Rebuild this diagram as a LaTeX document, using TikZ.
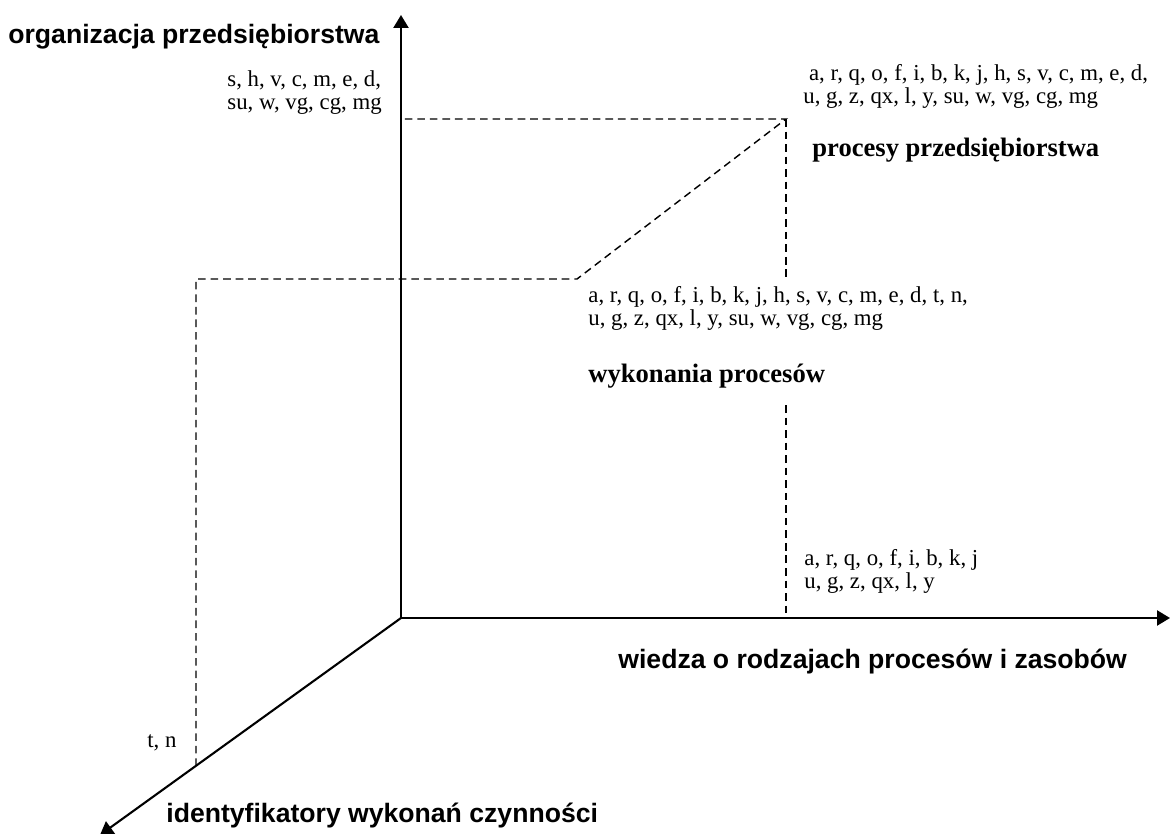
\documentclass[tikz,border=0pt]{standalone}
\usepackage{fontspec}
\setmainfont{Liberation Serif}
\setsansfont{Liberation Sans}
\usetikzlibrary{arrows.meta}

\begin{document}
\begin{tikzpicture}
[x=0.5263pt, y=-0.5263pt,
  axisline/.style={line width=1.1pt,-{Triangle[length=6.8pt,width=7.9pt]}},%
  guideline/.style={line width=0.75pt,dash pattern=on 4pt off 2.6pt},%
  axislabel/.style={font=\sffamily\bfseries\fontsize{14}{16}\selectfont,inner sep=0pt,anchor=base west},%
  setlabel/.style={font=\fontsize{12}{11.6}\selectfont,align=left,inner sep=0pt,anchor=base west},%
  levellabel/.style={font=\bfseries\fontsize{14}{16}\selectfont,inner sep=0pt,anchor=base west}]
\useasboundingbox (0,0) rectangle (1170,834);
%% points of the axes and of the guide lines
\foreach \pointname/\x/\y in {origin/401/618, ytip/401/15, xtip/1170/618, ztip/100/835,
  zfoot/196/766, zhead/196/279, kink/577/279, corner/786/119, yhead/401/119,
  cornerend/786/277, xfoot/786/618, xhead/786/405} {
  \coordinate (\pointname) at (\x,\y);
}
%% axes
\draw[axisline] (origin) -- (ytip);
\draw[axisline] (origin) -- (xtip);
\draw[axisline] (origin) -- (ztip);
%% guide lines
\draw[guideline] (zfoot) -- (zhead) -- (kink) -- (corner) -- (yhead);
\draw[guideline] (corner) -- (cornerend);
\draw[guideline] (xhead) -- (xfoot);
%% axis names
\node (orgname) at (8,43) [axislabel] {organizacja przedsiębiorstwa};
\node (wiedzaname) at (618,668) [axislabel] {wiedza o rodzajach procesów i zasobów};
\node (idname) at (166,822) [axislabel] {identyfikatory wykonań czynności};
%% sets of symbols (placed by the baseline of their last line)
\node (orgset) at (227,109) [setlabel] {s, h, v, c, m, e, d,\\su, w, vg, cg, mg};
\node (allset) at (803,103) [setlabel] {\hspace*{0.25em}a, r, q, o, f, i, b, k, j, h, s, v, c, m, e, d,\\u, g, z, qx, l, y, su, w, vg, cg, mg};
\node (wykset) at (588,325) [setlabel] {a, r, q, o, f, i, b, k, j, h, s, v, c, m, e, d, t, n,\\u, g, z, qx, l, y, su, w, vg, cg, mg};
\node (wiedzaset) at (804,588) [setlabel] {a, r, q, o, f, i, b, k, j\\u, g, z, qx, l, y};
\node (idset) at (147,747) [setlabel] {t, n};
%% level names
\node (procname) at (812,156) [levellabel] {procesy przedsiębiorstwa};
\node (wykname) at (588,382) [levellabel] {wykonania procesów};
\end{tikzpicture}
\end{document}
